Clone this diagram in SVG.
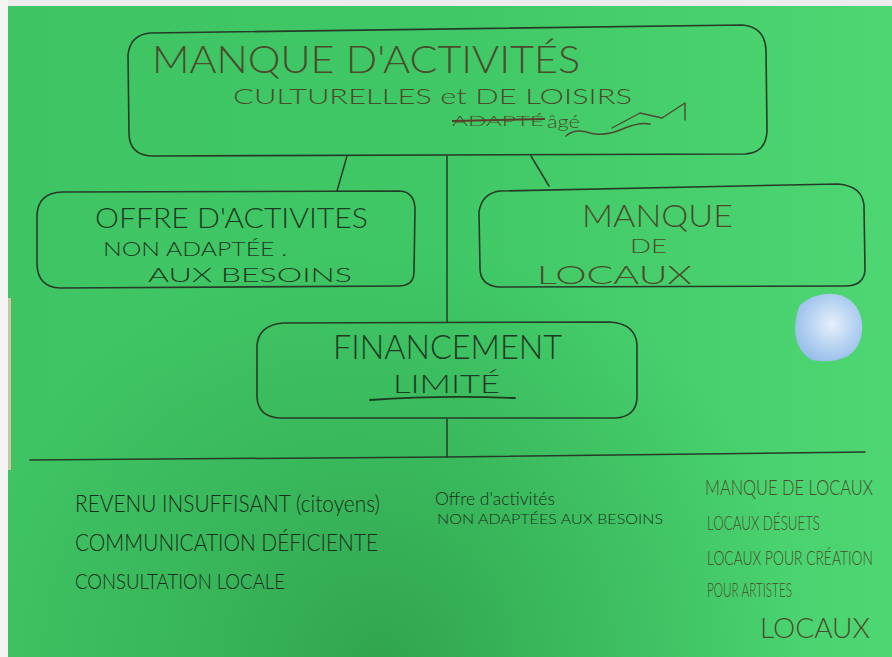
<svg xmlns="http://www.w3.org/2000/svg" width="892" height="657" viewBox="0 0 892 657">
  <defs>
    <linearGradient id="bgH" x1="0" y1="0" x2="1" y2="0">
      <stop offset="0" stop-color="#3fc463"/>
      <stop offset="0.5" stop-color="#40c866"/>
      <stop offset="1" stop-color="#4dd672"/>
    </linearGradient>
    <radialGradient id="shade" cx="380" cy="660" r="420" gradientUnits="userSpaceOnUse">
      <stop offset="0" stop-color="#2c9a48" stop-opacity="0.75"/>
      <stop offset="0.6" stop-color="#2f9f4c" stop-opacity="0.3"/>
      <stop offset="1" stop-color="#2f9f4c" stop-opacity="0"/>
    </radialGradient>
    <radialGradient id="dot" cx="0.55" cy="0.45" r="0.6">
      <stop offset="0" stop-color="#e6f0fb"/>
      <stop offset="0.5" stop-color="#bcd6f3"/>
      <stop offset="1" stop-color="#96bdea"/>
    </radialGradient>
  </defs>
  <style>
    .box { fill: none; stroke: #263b27; stroke-width: 1.6; stroke-linejoin: round; }
    .con { fill: none; stroke: #263b27; stroke-width: 1.5; stroke-linecap: round; }
    .hw { font-family: Lato, "Open Sans", "Liberation Sans", sans-serif; font-weight: 300; }
    .olive { fill: #4a4c2c; }
    .dark { fill: #1e3a22; }
    .ink { fill: #1b2e1c; }
  </style>

  <!-- background -->
  <rect x="0" y="0" width="892" height="657" fill="url(#bgH)"/>
  <rect x="0" y="0" width="892" height="657" fill="url(#shade)"/>
  <rect x="0" y="0" width="892" height="6" fill="#ececec"/>
  <rect x="0" y="0" width="8" height="657" fill="#f4f4f4"/>
  <rect x="8" y="298" width="3" height="172" fill="#c9c7a2"/>

  <!-- connectors -->
  <g id="connectors">
    <path class="con" d="M347,156 L337,191"/>
    <path class="con" d="M531,156 L549,186"/>
    <path class="con" d="M447,156 L447,322"/>
    <path class="con" d="M447,419 L447,457"/>
    <path class="con" d="M30,460 L447,457 L865,452"/>
  </g>

  <!-- top node -->
  <g id="node-top">
    <path class="box" d="M150,33 L742,25 Q765,27 766,50 L767,131 Q766,153 745,154 L152,156 Q129,155 129,133 L128,55 Q130,35 150,33 Z"/>
    <text class="hw olive" x="152" y="73" font-size="38" textLength="428" lengthAdjust="spacingAndGlyphs">MANQUE D'ACTIVITÉS</text>
    <text class="hw olive" x="233" y="104" font-size="21" textLength="399" lengthAdjust="spacingAndGlyphs">CULTURELLES et DE LOISIRS</text>
    <text class="hw olive" x="452" y="126" font-size="14" textLength="92" lengthAdjust="spacingAndGlyphs">ADAPTÉ</text>
    <path d="M452,121 L545,119" stroke="#5a3e2a" stroke-width="2" fill="none"/>
    <text class="hw olive" x="547" y="128" font-size="17" textLength="33" lengthAdjust="spacingAndGlyphs">âgé</text>
    <path d="M566,136 Q575,128 590,133 Q605,137 625,128 Q640,122 650,124 M612,128 L640,113 L662,118 L685,103 L685,120" fill="none" stroke="#4d4a32" stroke-width="1.4" stroke-linecap="round" stroke-linejoin="round"/>
  </g>

  <!-- left node -->
  <g id="node-left">
    <path class="box" d="M62,192 L400,191 Q414,192 415,208 L414,272 Q414,286 398,286 L60,288 Q38,287 37,265 L37,215 Q38,193 62,192 Z"/>
    <text class="hw dark" x="95" y="228" font-size="27" textLength="273" lengthAdjust="spacingAndGlyphs">OFFRE D'ACTIVITES</text>
    <text class="hw dark" x="103" y="256" font-size="20" textLength="184" lengthAdjust="spacingAndGlyphs">NON ADAPTÉE .</text>
    <text class="hw dark" x="148" y="282" font-size="20" textLength="204" lengthAdjust="spacingAndGlyphs">AUX BESOINS</text>
  </g>

  <!-- right node -->
  <g id="node-right">
    <path class="box" d="M500,191 L838,184 Q862,186 864,205 L865,270 Q864,286 845,286 L498,287 Q480,285 480,268 L479,212 Q482,193 500,191 Z"/>
    <text class="hw olive" x="582" y="227" font-size="32" textLength="151" lengthAdjust="spacingAndGlyphs">MANQUE</text>
    <text class="hw olive" x="630" y="253" font-size="19" textLength="37" lengthAdjust="spacingAndGlyphs">DE</text>
    <text class="hw olive" x="537" y="284" font-size="26" textLength="155" lengthAdjust="spacingAndGlyphs">LOCAUX</text>
  </g>

  <!-- middle node -->
  <g id="node-middle">
    <path class="box" d="M283,323 L610,322 Q636,324 637,345 L637,398 Q636,417 615,418 L280,418 Q258,417 257,397 L257,345 Q259,325 283,323 Z"/>
    <text class="hw dark" x="333" y="359" font-size="34" textLength="229" lengthAdjust="spacingAndGlyphs">FINANCEMENT</text>
    <text class="hw dark" x="393" y="393" font-size="26" textLength="107" lengthAdjust="spacingAndGlyphs">LIMITÉ</text>
    <path d="M370,400 Q440,395 515,398" fill="none" stroke="#1e3a22" stroke-width="1.8" stroke-linecap="round"/>
  </g>

  <!-- blue sticker -->
  <path d="M800,305 Q815,292 835,294 Q858,298 862,322 Q864,345 848,356 Q832,364 812,360 Q797,352 795,332 Q795,315 800,305 Z" fill="url(#dot)"/>

  <!-- bottom notes -->
  <g id="notes-left">
    <text class="hw ink" x="75" y="512" font-size="24" textLength="305" lengthAdjust="spacingAndGlyphs">REVENU INSUFFISANT (citoyens)</text>
    <text class="hw ink" x="75" y="551" font-size="24" textLength="303" lengthAdjust="spacingAndGlyphs">COMMUNICATION DÉFICIENTE</text>
    <text class="hw ink" x="75" y="589" font-size="22" textLength="210" lengthAdjust="spacingAndGlyphs">CONSULTATION LOCALE</text>
  </g>
  <g id="notes-middle">
    <text class="hw ink" x="435" y="505" font-size="18" textLength="120" lengthAdjust="spacingAndGlyphs">Offre d'activités</text>
    <text class="hw ink" x="437" y="524" font-size="14" textLength="226" lengthAdjust="spacingAndGlyphs">NON ADAPTÉES AUX BESOINS</text>
  </g>
  <g id="notes-right">
    <text class="hw olive" transform="translate(705,495) scale(1,1.3)" x="0" y="0" font-size="16" textLength="168" lengthAdjust="spacingAndGlyphs">MANQUE DE LOCAUX</text>
    <text class="hw olive" x="707" y="530" font-size="19" textLength="113" lengthAdjust="spacingAndGlyphs">LOCAUX DÉSUETS</text>
    <text class="hw olive" transform="translate(707,565) scale(1,1.45)" x="0" y="0" font-size="14" textLength="166" lengthAdjust="spacingAndGlyphs">LOCAUX POUR CRÉATION</text>
    <text class="hw olive" x="707" y="597" font-size="19" textLength="85" lengthAdjust="spacingAndGlyphs">POUR ARTISTES</text>
    <text class="hw olive" x="760" y="638" font-size="28" textLength="110" lengthAdjust="spacingAndGlyphs">LOCAUX</text>
  </g>
</svg>
